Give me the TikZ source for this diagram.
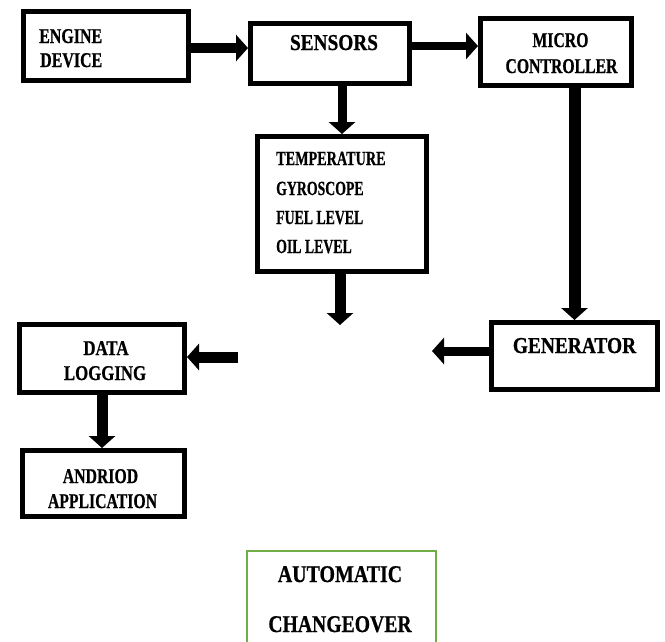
\documentclass[tikz,border=0pt]{standalone}
\usepackage{fontspec}
\setmainfont{Liberation Serif}[BoldFeatures={FakeBold=0.8}]
\usetikzlibrary{arrows.meta,calc}
\definecolor{boxgreen}{HTML}{70AD47}
\newcommand\lbl[3]{\scalebox{#2}[1]{\fontsize{#1}{#1}\selectfont\bfseries #3}}
\tikzset{
  blk/.style={draw=black, line width=5pt, inner sep=0pt, rectangle},
  gbox/.style={draw=boxgreen, line width=2.2pt, inner sep=0pt, rectangle},
  txt/.style={inner sep=0pt, font=\bfseries},
  arr/.style={line width=#1, draw=black, -{Triangle[width=26pt,length=12pt]}},
  arr/.default=10pt
}
\begin{document}
\begin{tikzpicture}[x=1pt,y=-1pt]
\useasboundingbox (0,0) rectangle (665,641);
\clip (0,0) rectangle (665,641);
\fill[white] (0,0) rectangle (665,641);
% boxes
\node[blk, minimum width=165pt, minimum height=69pt] (engine) at (106,46) {};
\node[blk, minimum width=159pt, minimum height=60pt] (sensors) at (330,53.5) {};
\node[blk, minimum width=151pt, minimum height=67pt] (micro) at (556,52) {};
\node[blk, minimum width=169pt, minimum height=135pt] (temp) at (342,204) {};
\node[blk, minimum width=166pt, minimum height=67pt] (gen) at (574.5,356) {};
\node[blk, minimum width=165pt, minimum height=68pt] (data) at (102,358.5) {};
\node[blk, minimum width=162pt, minimum height=66pt] (app) at (103.5,483.5) {};
\node[gbox, minimum width=189pt, minimum height=108pt] (auto) at (341.5,605) {};
% texts
\node[txt, anchor=base west] (t-engine) at (39,43) {\lbl{21}{0.76}{ENGINE}};
\node[txt, anchor=base west] (t-device) at (40,67) {\lbl{21}{0.76}{DEVICE}};
\node[txt, anchor=base] (t-sensors) at (334,50) {\lbl{22.7}{0.85}{SENSORS}};
\node[txt, anchor=base] (t-micro) at (560.5,47) {\lbl{21}{0.75}{MICRO}};
\node[txt, anchor=base] (t-ctrl) at (561.5,73) {\lbl{21}{0.75}{CONTROLLER}};
\node[txt, anchor=base west] (t-temp) at (276,165) {\lbl{20}{0.71}{TEMPERATURE}};
\node[txt, anchor=base west] (t-gyro) at (276,195) {\lbl{20}{0.69}{GYROSCOPE}};
\node[txt, anchor=base west] (t-fuel) at (276,224) {\lbl{20}{0.69}{FUEL LEVEL}};
\node[txt, anchor=base west] (t-oil) at (276,253) {\lbl{20}{0.69}{OIL LEVEL}};
\node[txt, anchor=base] (t-gen) at (574.5,353) {\lbl{22.7}{0.855}{GENERATOR}};
\node[txt, anchor=base] (t-data) at (106,355) {\lbl{21}{0.8}{DATA}};
\node[txt, anchor=base] (t-log) at (105,380) {\lbl{21}{0.8}{LOGGING}};
\node[txt, anchor=base] (t-andr) at (100.5,483) {\lbl{21}{0.75}{ANDRIOD}};
\node[txt, anchor=base] (t-appl) at (102.5,508) {\lbl{21}{0.75}{APPLICATION}};
\node[txt, anchor=base] (t-auto) at (340,582) {\lbl{24}{0.83}{AUTOMATIC}};
\node[txt, anchor=base] (t-chg) at (340,632) {\lbl{24}{0.82}{CHANGEOVER}};
% free ends
\coordinate (tend) at (340,325);
\coordinate (gend) at (432,351);
\coordinate (dstart) at (238,357);
% connectors
\draw[arr=10pt] ([yshift=-2pt]engine.east) -- ([yshift=5.5pt]sensors.west);
\draw[arr=8pt] ([yshift=7.5pt]sensors.east) -- ([yshift=6pt]micro.west);
\draw[arr=9pt] (sensors.south -| temp.north) -- (temp.north);
\draw[arr=11pt] (temp.south -| tend) -- (tend);
\draw[arr=12pt] (micro.south -| gen.north) -- (gen.north);
\draw[arr=9pt] (gen.west |- gend) -- (gend);
\draw[arr=11pt] (dstart) -- (data.east |- dstart);
\draw[arr=11pt] (data.south) -- (app.north -| data.south);
\end{tikzpicture}
\end{document}
